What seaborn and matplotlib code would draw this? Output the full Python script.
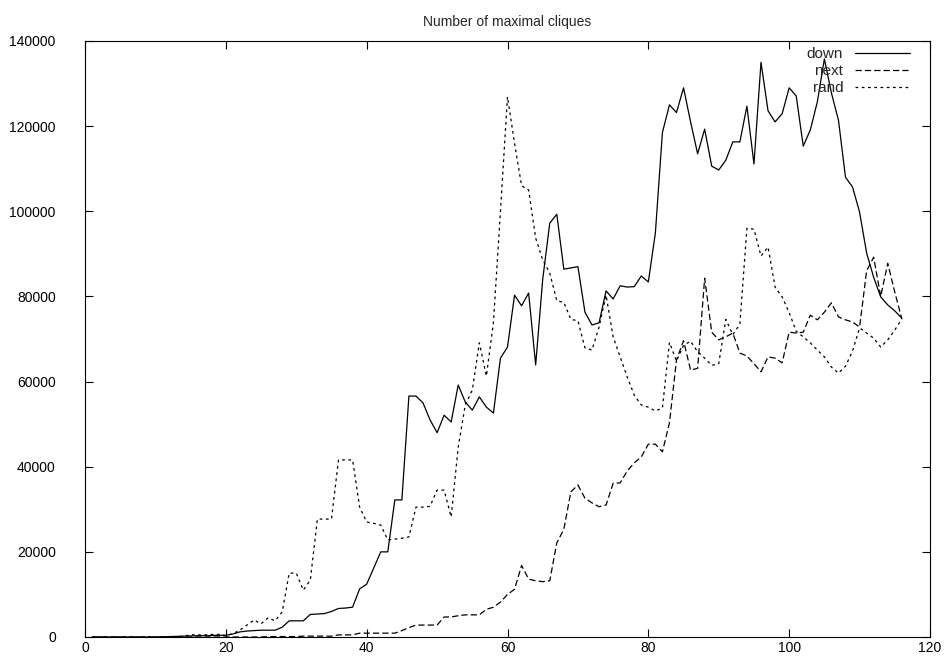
import numpy as np
import pandas as pd
import matplotlib
matplotlib.use("Agg")
import matplotlib.pyplot as plt
import seaborn as sns

# DATA
x = list(range(1, 117))

down = [0, 0, 0, 0, 0, 0, 0, 0, 0, 0,
        50, 100, 150, 200, 250, 300, 300, 350, 400, 400,
        700, 1200, 1400, 1500, 1600, 1600, 1600, 2300, 3800, 3800,
        3800, 5300, 5400, 5500, 6000, 6700, 6800, 7000, 11300, 12400,
        16200, 20000, 20000, 32200, 32200, 56600, 56600, 55000, 51000, 48000,
        52100, 50500, 59200, 55200, 53300, 56400, 54000, 52600, 65500, 68100,
        80300, 77800, 80800, 63900, 84000, 97200, 99300, 86400, 86700, 87000,
        76300, 73300, 73800, 81300, 79400, 82500, 82200, 82300, 84800, 83400,
        94900, 118500, 125000, 123200, 129000, 121000, 113500, 119300, 110600, 109700,
        112000, 116300, 116300, 124700, 111100, 135000, 123600, 121000, 122900, 129000,
        127100, 115300, 119100, 125700, 135800, 127800, 121400, 108000, 105700, 99800,
        90200, 84500, 79900, 78000, 76600, 74900]

next_ = [0, 0, 0, 0, 0, 0, 0, 0, 0, 0,
         0, 0, 0, 0, 0, 0, 0, 0, 0, 0,
         0, 0, 0, 0, 0, 100, 100, 100, 100, 100,
         200, 200, 200, 200, 200, 500, 500, 500, 900, 900,
         900, 900, 900, 900, 1500, 2200, 2800, 2800, 2800, 2800,
         4700, 4700, 5000, 5200, 5200, 5200, 6500, 7000, 8200, 10000,
         11200, 16800, 13600, 13200, 13000, 13200, 22100, 25300, 34100, 35700,
         32600, 31500, 30600, 31000, 36100, 36200, 39000, 40900, 42300, 45300,
         45300, 43500, 50300, 65100, 69600, 62700, 63100, 84300, 71600, 69800,
         70500, 71400, 66700, 66000, 64200, 62300, 65800, 65500, 64400, 71600,
         71400, 71600, 75600, 74500, 76300, 78500, 75200, 74500, 74000, 72800,
         86000, 89200, 80000, 87800, 81000, 74700]

rand = [0, 0, 0, 0, 0, 0, 0, 0, 0, 0,
        0, 0, 0, 200, 500, 500, 500, 600, 600, 300,
        800, 1600, 2800, 4000, 3100, 4500, 3800, 5900, 15000, 15000,
        11000, 13400, 27700, 27700, 27700, 41600, 41600, 41600, 30500, 27000,
        26700, 26300, 22800, 23000, 23200, 23500, 30500, 30500, 30700, 34500,
        34500, 28200, 44600, 54500, 58000, 69100, 61300, 73800, 100000, 126900,
        116000, 106000, 105000, 93700, 88600, 85500, 79000, 78600, 74600, 74300,
        67900, 67400, 72800, 80300, 70500, 65800, 61100, 56800, 54500, 54000,
        53100, 53800, 69200, 64800, 68500, 69500, 67000, 65500, 63800, 64200,
        74600, 71000, 73500, 96000, 95800, 89500, 91600, 82200, 79900, 76200,
        71800, 70500, 69100, 67400, 65800, 63400, 62000, 63600, 67200, 72600,
        71400, 70200, 68100, 69800, 72100, 74700]

xticks = [0, 20, 40, 60, 80, 100, 120]
yticks = [0, 20000, 40000, 60000, 80000, 100000, 120000, 140000]

sns.set_style("ticks")
plt.rcParams['font.family'] = ['Liberation Sans', 'DejaVu Sans']

fig, ax = plt.subplots(figsize=(9.5, 6.66), dpi=100)
fig.subplots_adjust(left=85/950, right=930/950, bottom=29/666, top=625/666)

sns.lineplot(x=x, y=down, color="black", lw=0.9, label="down", ax=ax)
sns.lineplot(x=x, y=next_, color="black", lw=0.9, label="next",
             linestyle=(0, (5, 2.5)), ax=ax)
sns.lineplot(x=x, y=rand, color="black", lw=0.9, label="rand",
             linestyle=(0, (2.2, 2.8)), ax=ax)

ax.set_xlim(0, 120)
ax.set_ylim(0, 140000)
ax.set_xticks(xticks)
ax.set_yticks(yticks)
ax.tick_params(direction="in", length=6, width=0.8, top=True, right=True,
               labelsize=10, colors="black")
ax.tick_params(axis="x", pad=3)
ax.tick_params(axis="y", pad=21)
for sp in ax.spines.values():
    sp.set_linewidth(0.8)
    sp.set_color("black")

ax.set_title("Number of maximal cliques", fontsize=10, pad=11)
ax.legend(loc="upper right", frameon=False, markerfirst=False, fontsize=11,
          handlelength=3.6, handletextpad=0.8, labelspacing=0.2,
          borderaxespad=0.0, bbox_to_anchor=(0.984, 1.0))

plt.savefig("out.png", dpi=100)
